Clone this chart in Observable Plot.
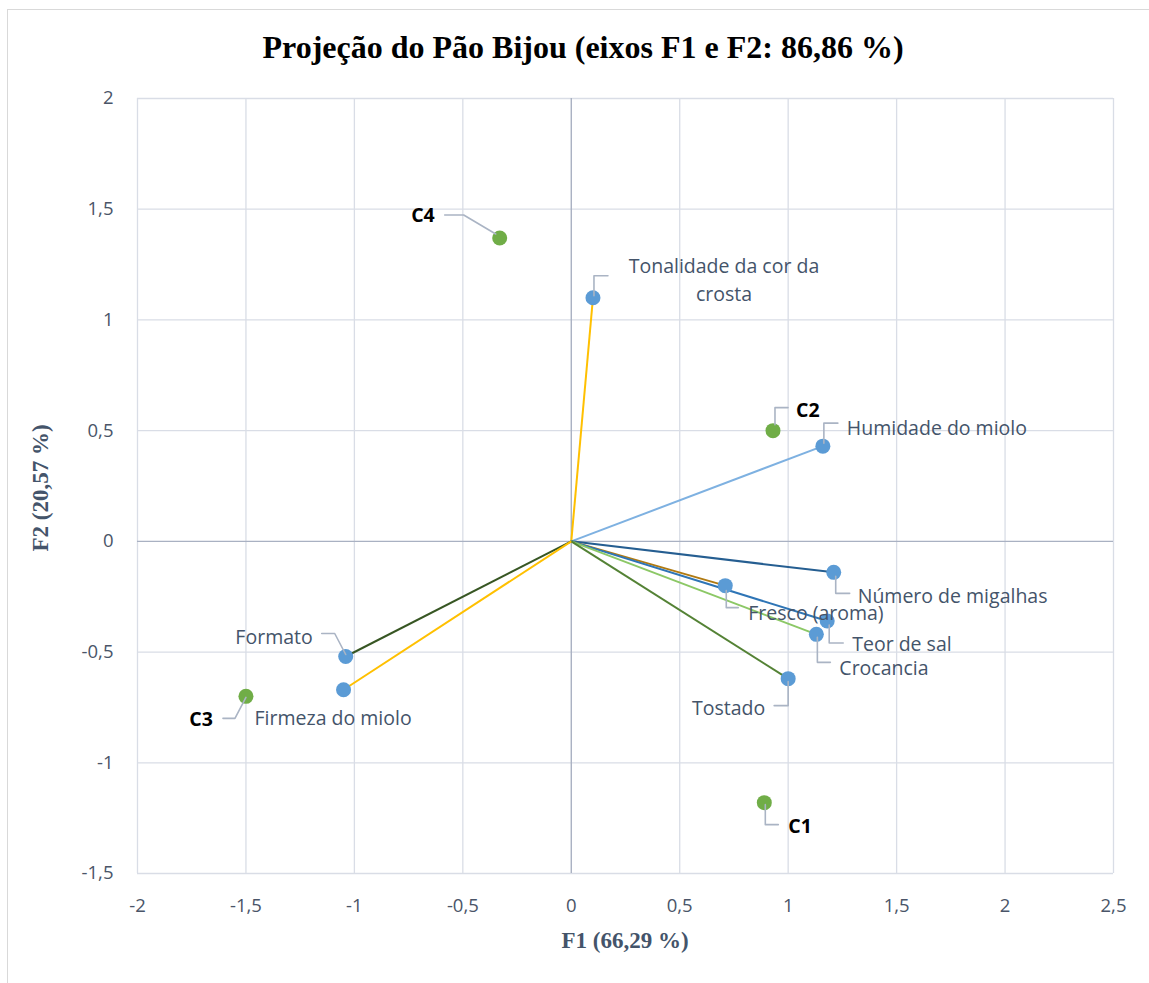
<!DOCTYPE html>
<html>
<head>
<meta charset="utf-8">
<script src="https://cdn.jsdelivr.net/npm/d3@7"></script>
<script src="https://cdn.jsdelivr.net/npm/@observablehq/plot@0.6"></script>
<style>
  html, body { margin: 0; padding: 0; background: #fff; }
  #wrap { position: relative; width: 1149px; height: 983px; overflow: hidden; }
  #wrap svg { position: absolute; left: 0; top: 0; }
  .frame-l { position: absolute; left: 7px; top: 9px; width: 1px; height: 980px; background: #d9d9d9; }
  .frame-t { position: absolute; left: 7px; top: 9px; width: 1142px; height: 1px; background: #d9d9d9; }
  .title { position: absolute; left: 0; width: 1166px; top: 29px; text-align: center;
           font: bold 32px "Liberation Serif", "Times New Roman", serif; color: #000; }
  .xtitle { position: absolute; left: 0; width: 1250px; top: 928px; text-align: center;
            font: bold 23px "Liberation Serif", serif; color: #44546a; }
  .ytitle { position: absolute; left: 41px; top: 488px; transform: translate(-50%, -50%) rotate(-90deg);
            white-space: nowrap; font: bold 23px "Liberation Serif", serif; color: #44546a; }
</style>
</head>
<body>
<div id="wrap">
  <div class="frame-l"></div><div class="frame-t"></div>
  <div class="title">Projeção do Pão Bijou (eixos F1 e F2: 86,86 %)</div>
  <div class="xtitle">F1 (66,29 %)</div>
  <div class="ytitle">F2 (20,57 %)</div>
</div>
<script>
// Variables (loadings) on the F1/F2 plane
const variables = ["Tonalidade da cor da crosta", "Humidade do miolo", "Número de migalhas",
  "Fresco (aroma)", "Teor de sal", "Crocancia", "Tostado", "Formato", "Firmeza do miolo"];
const varF1 = [0.10, 1.16, 1.21, 0.71, 1.18, 1.13, 1.00, -1.04, -1.05];
const varF2 = [1.10, 0.43, -0.14, -0.20, -0.36, -0.42, -0.62, -0.52, -0.67];

// Observations (bread samples)
const observations = ["C1", "C2", "C3", "C4"];
const obsF1 = [0.89, 0.93, -1.50, -0.33];
const obsF2 = [-1.18, 0.50, -0.70, 1.37];

const xTicks = [-2, -1.5, -1, -0.5, 0, 0.5, 1, 1.5, 2, 2.5];
const yTicks = [-1.5, -1, -0.5, 0, 0.5, 1, 1.5, 2];

// Vector colours, one per variable
const vecColors = ["#ffc000", "#7eb1e1", "#255e91", "#b07a12", "#2e75b6", "#8cc866", "#548235", "#375623", "#ffc000"];

// Label placement: pixel offsets from the point, leader polyline in pixels
const varPlace = [
  {dx: 131, dy: -20, anchor: "middle", split: 20, leader: [[1, -2], [1, -22], [15, -22]]},
  {dx: 24, dy: -20, anchor: "start", leader: [[1, -3], [1, -23], [15, -23]]},
  {dx: 24, dy: 22, anchor: "start", leader: [[2, 4], [2, 21], [16, 21]]},
  {dx: 23, dy: 25, anchor: "start", leader: [[1, 5], [1, 22], [13, 22]]},
  {dx: 25, dy: 21, anchor: "start", leader: [[2, 4], [2, 22], [16, 22]]},
  {dx: 23, dy: 32, anchor: "start", leader: [[1, 3], [1, 28], [14, 28]]},
  {dx: -23, dy: 27, anchor: "end", leader: [[0, 3], [0, 27], [-14, 27]]},
  {dx: -33, dy: -22, anchor: "end", leader: [[-24, -23], [-11, -23], [0, -2]]},
  {dx: -89, dy: 26, anchor: "start", leader: null}
];
const obsPlace = [
  {dx: 24, dy: 24, anchor: "start", leader: [[1, 2], [1, 22], [14, 22]]},
  {dx: 23, dy: -20, anchor: "start", leader: [[2, -6], [2, -23], [15, -23]]},
  {dx: -33, dy: 23, anchor: "end", leader: [[-23, 22], [-11, 22], [0, 1]]},
  {dx: -65, dy: -22, anchor: "end", leader: [[-55, -23], [-36, -23], [-4, -4]]}
];

const W = 1149, H = 983;
const M = {left: 137, right: 36, top: 98, bottom: 110};
const xDom = [-2, 2.5], yDom = [-1.5, 2];
const ux = (xDom[1] - xDom[0]) / (W - M.left - M.right);
const uy = (yDom[1] - yDom[0]) / (H - M.top - M.bottom);

const fmt = d => String(d).replace(".", ",");

const vars = variables.map((name, i) => ({
  name, x: varF1[i], y: varF2[i], color: vecColors[i], place: varPlace[i],
  text: varPlace[i].split ? name.slice(0, varPlace[i].split) + "\n" + name.slice(varPlace[i].split + 1) : name
}));
const obs = observations.map((name, i) => ({name, x: obsF1[i], y: obsF2[i], place: obsPlace[i], text: name}));

// Leader polylines converted from pixel offsets into data space
const leaders = [];
[...vars, ...obs].forEach((d, k) => {
  if (!d.place.leader) return;
  d.place.leader.forEach(([px, py]) => leaders.push({id: k, x: d.x + px * ux, y: d.y - py * uy}));
});

const vecSegs = vars.map(d => ({x1: 0, y1: 0, x2: d.x, y2: d.y, color: d.color}));

// one text mark per label, since each label has its own offset
function labels(data, opts) {
  return data.map(d => Plot.text([d], {
    x: "x", y: "y", text: "text", textAnchor: d.place.anchor,
    dx: d.place.dx, dy: d.place.dy, lineAnchor: "middle", ...opts
  }));
}

const chart = Plot.plot({
  width: W, height: H,
  marginLeft: M.left, marginRight: M.right, marginTop: M.top, marginBottom: M.bottom,
  x: {domain: xDom},
  y: {domain: yDom},
  style: {fontFamily: "'Open Sans', Lato, sans-serif", background: "transparent", overflow: "visible"},
  marks: [
    Plot.ruleX(xTicks.filter(t => t !== 0), {stroke: "#d9dde6", strokeWidth: 1.3, strokeOpacity: 1}),
    Plot.ruleY(yTicks.filter(t => t !== 0), {stroke: "#d9dde6", strokeWidth: 1.3, strokeOpacity: 1}),
    Plot.ruleX([0], {stroke: "#a9b1c2", strokeWidth: 1.4}),
    Plot.ruleY([0], {stroke: "#a9b1c2", strokeWidth: 1.4}),
    Plot.axisX(xTicks, {tickSize: 0, tickPadding: 25, tickFormat: fmt, fontSize: 18.5, color: "#4a5568", anchor: "bottom"}),
    Plot.axisY(yTicks, {tickSize: 0, tickPadding: 24, tickFormat: fmt, fontSize: 18.5, color: "#4a5568", anchor: "left"}),
    Plot.link(vecSegs, {x1: "x1", y1: "y1", x2: "x2", y2: "y2", stroke: "color", strokeWidth: 2}),
    Plot.dot(vars, {x: "x", y: "y", r: 7.5, fill: "#5b9bd5"}),
    Plot.dot(obs, {x: "x", y: "y", r: 7.5, fill: "#70ad47"}),
    Plot.line(leaders, {x: "x", y: "y", z: "id", stroke: "#aab4c4", strokeWidth: 1.6}),
    ...labels(vars, {fontSize: 19.5, fill: "#44546a", lineHeight: 1.45}),
    ...labels(obs, {fontSize: 19.5, fill: "#000", fontWeight: "bold"})
  ]
});
document.getElementById("wrap").prepend(chart);
</script>
</body>
</html>
